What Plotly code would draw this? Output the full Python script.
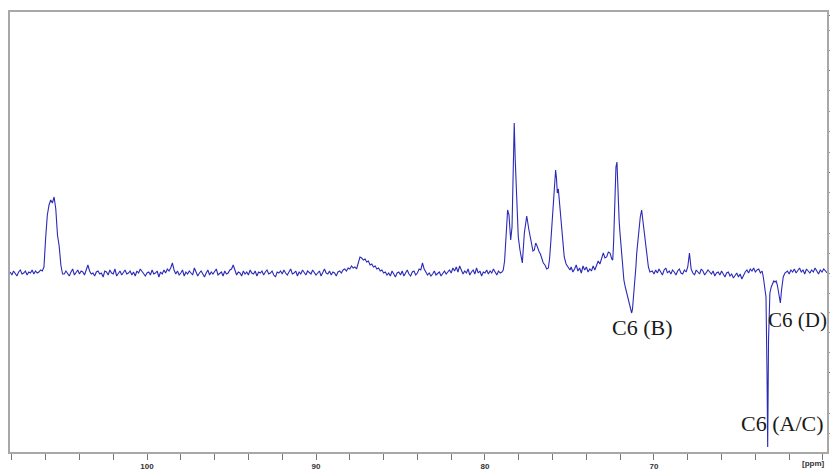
import numpy as np
import plotly.graph_objects as go

# ---- data (intensity, arbitrary units; 0 = baseline) ----
noise_1 = [1, -2, 2, 0, -3, 1, 3, -1, 0, 2, -2, 1, 0, 3, -1, 2, 0, 1, 3]          # 108.1 -> 106.3
peak_a_ppm = [106.2, 106.1, 106.0, 105.9, 105.8, 105.7, 105.6, 105.5, 105.4, 105.3, 105.2, 105.1, 105.0]
peak_a_int = [2, 6, 35, 58, 68, 73, 70, 76, 64, 38, 27, 8, -1]
noise_2 = [-1, 2, 0, -3, 1, 4, -2, 0, 3, -1, 2, 1,
           -2, 3, 8, 2, -1, 0, -3, 1, 2, -1, 0, -4,
           2, 1, -2, 3, 0, -1, 4, -3, 0, 2, -2, 1,
           3, -1, 0, 2, -2, 1, -3, 2, 0, 4, 2, -1,
           -3, 0, 1, -2, 3, -1, 0, 2, -4, 1, -1, 3,
           0, 4, 2, 5, 10, 3, -1, 2, -2, 0, 3, -3,
           1, -1, 2, 0, -2, 5, 1, -3, 0, 2, -1, -4,
           0, 3, -2, 1, -1, 2, 4, -2, 0, 1, -3, 2,
           -1, 0, 3, 4, 8, 2, -2, 1, 0, -3, 2, -1,
           1, -2, 3, 0, -1, 2, -3, 1, 0, 2, -2, 1,
           3, -1, 0, 2, -2, -4, 1, 0, 2, -1, 3, 0,
           -2, 1, 4, -1, 0, 2, -3, 1, -1, 3, 0, -2,
           2, 0, -1, 3, 1, -2, 0, 2, -3, 1, 4, 0,
           -1, 2, -2, 1, 0, -3, 1, 2, 0, 3, 4, 2]                                  # 104.9 -> 88.2
bump_int = [5, 4, 7, 5, 6, 4, 9, 16, 15, 13, 14, 11, 12, 8, 9, 6, 7, 4, 5, 2, 3, 0]  # 88.1 -> 86.0
noise_3 = [1, -2, 0, -3, 2, -1, -4, 0, 1, -2, 2, -3,
           0, 3, -1, -3, 1, 2, -2, 0, 4, 3, 10, 4,
           1, -2, 0, -3, -1, 2, -2, 0, 1, -3, 0, 2,
           -1, 1, 3, 0, 5, 2, 6, 1, 7, 3, -1, 2,
           0, 4, -2, 1, 3, -1, 5, 0, 2, -3, 1, 0,
           3, -1, 2, 0, 4, 1, -2, 2, 0, 1]                                          # 85.9 -> 79.0
cluster_ppm = [78.92, 78.84, 78.76, 78.66, 78.58, 78.48, 78.40, 78.32, 78.27, 78.21, 78.12, 78.03,
               77.93, 77.79, 77.67, 77.53, 77.40, 77.24, 77.16, 77.08, 77.00, 76.94, 76.87, 76.79,
               76.72, 76.65, 76.55, 76.45, 76.35, 76.25, 76.18, 76.11, 76.03, 75.96, 75.89, 75.82,
               75.77, 75.72, 75.66, 75.60, 75.53, 75.46, 75.38, 75.31, 75.20, 75.07,
               74.97, 74.9, 74.8, 74.7, 74.6, 74.5, 74.4, 74.3, 74.2, 74.1, 74.0, 73.9, 73.8, 73.7,
               73.6, 73.5, 73.4, 73.3, 73.2, 73.1, 73.0, 72.9, 72.8, 72.7, 72.6, 72.5, 72.44, 72.39,
               72.35, 72.30, 72.25, 72.19, 72.15, 72.11, 72.06, 72.01, 71.95, 71.89, 71.84, 71.78,
               71.70, 71.62, 71.54, 71.46, 71.39, 71.32, 71.27, 71.22, 71.17, 71.12, 71.07, 71.02,
               70.95, 70.89, 70.81, 70.73, 70.66, 70.59, 70.51, 70.43, 70.33, 70.24]
cluster_int = [3, 12, 33, 63, 58, 33, 46, 126, 150, 113, 66, 36,
               23, 10, 40, 57, 43, 26, 22, 23, 30, 28, 24, 21,
               19, 16, 10, 8, 4, 5, 14, 30, 52, 73, 90, 103,
               95, 80, 84, 73, 58, 40, 26, 16, 9, 5,
               3, 6, 1, 4, 8, 2, 5, 0, 7, 3, 6, 1, 4, 2,
               7, 3, 8, 12, 9, 14, 20, 15, 16, 21, 20, 14, 13, 30,
               60, 85, 106, 111, 90, 66, 52, 40, 26, 13, 3, -7,
               -14, -20, -24, -29, -34, -40, -36, -27, -16, -7, 6, 20,
               33, 46, 56, 63, 52, 40, 28, 16, 6, 1]
noise_4 = [2, -1, 3, 0, 4, 1, -2, 3, 5, 0, 2, -1,
           3, 1, -2, 2, 4, 0, -1, 3, 1, 6, 20, 4,
           0, -2, 3, 1, -1, 4, 2, -2, 0, 3, 1, -1,
           2, -3, 0, 1, -2, 2, -1, -4, 0, 1, -3, -1,
           -5, -2, 0, -4, -1, -6, -2, 1, 3, 0, 4, 2,
           5, 1, 3, 4, 0, 2]                                                        # 70.1 -> 63.6
neg_ppm = [63.53, 63.43, 63.37, 63.31, 63.27, 63.22, 63.14, 63.06, 62.98, 62.91, 62.84, 62.77,
           62.70, 62.64, 62.58, 62.52, 62.45, 62.35, 62.25]
neg_int = [-4, -14, -24, -100, -174, -67, -20, -14, -10, -8, -9, -8,
           -12, -18, -27, -30, -17, -4, 0]
noise_5 = [2, -1, 3, 1, 4, 0, 2, 5, 1, 3, -1, 4, 2, 0, 3, 1, 5, 2, -1, 3, 1, 4, 2, 0]  # 62.1 -> 59.8

x_ticks = [100, 90, 80, 70]
labels = ["C6 (B)", "C6 (D)", "C6 (A/C)"]
label_ppm = [70.65, 59.8, 62.37]
label_int = [-54, -47, -150]
label_anchor = ["center", "right", "center"]
label_shift = [0, 3, 0]
label_size = [22, 21, 22]

# ---- assemble spectrum ----
segs_x = [np.linspace(108.1, 106.3, len(noise_1)), np.array(peak_a_ppm),
          np.linspace(104.9, 88.2, len(noise_2)), np.linspace(88.1, 86.0, len(bump_int)),
          np.linspace(85.9, 79.0, len(noise_3)), np.array(cluster_ppm),
          np.linspace(70.1, 63.6, len(noise_4)), np.array(neg_ppm),
          np.linspace(62.1, 59.75, len(noise_5))]
segs_y = [noise_1, peak_a_int, noise_2, bump_int, noise_3, cluster_int, noise_4, neg_int, noise_5]
ppm = np.concatenate(segs_x)
inten = np.concatenate([np.array(s, dtype=float) for s in segs_y])

fig = go.Figure()
fig.add_trace(go.Scatter(x=ppm, y=inten, mode="lines",
                         line=dict(color="#2a2ab8", width=1.1), showlegend=False,
                         hoverinfo="skip"))

for t, xx, yy, anc, sh, sz in zip(labels, label_ppm, label_int, label_anchor, label_shift, label_size):
    fig.add_annotation(x=xx, y=yy, text=t, showarrow=False, xanchor=anc, xshift=sh,
                       font=dict(family="Liberation Serif, Times New Roman, serif",
                                 size=sz, color="#1a1a1a"))

fig.add_annotation(xref="paper", yref="paper", x=1.0, y=0, yshift=-11, xanchor="right",
                   yanchor="middle", text="<b>[ppm]</b>", showarrow=False,
                   font=dict(family="Arial, Liberation Sans, sans-serif", size=8, color="#333"))

axis_col = "#a8a8a8"
fig.update_layout(
    width=830, height=462,
    margin=dict(l=2, r=11, t=4, b=18, autoexpand=False),
    paper_bgcolor="white", plot_bgcolor="white",
    xaxis=dict(range=[108.11, 59.76], showgrid=False, zeroline=False, automargin=False,
               showline=True, mirror=True, linecolor=axis_col, linewidth=1.5,
               ticks="outside", ticklen=6, tickcolor="#777", tickwidth=1,
               tickvals=x_ticks, ticktext=[f"<b>{v}</b>" for v in x_ticks],
               tickfont=dict(family="Arial, Liberation Sans, sans-serif", size=8, color="#333"),
               minor=dict(dtick=2, ticks="outside", ticklen=6, tickcolor="#777", tickwidth=1)),
    yaxis=dict(range=[-179, 261], side="right", showgrid=False, zeroline=False, automargin=False,
               showline=True, mirror=True, linecolor=axis_col, linewidth=1.5,
               ticks="outside", ticklen=5, tickcolor="#777",
               tickvals=[-99, 0, 101, 203, 258], ticktext=["5", "0", "5", "8", "5"],
               tickangle=90,
               tickfont=dict(family="Arial, Liberation Sans, sans-serif", size=9, color="#444"),
               minor=dict(tickvals=[-160, -140, -119, -79, -59, -39, -20, 20, 40, 61, 81,
                                    121, 142, 162, 183, 223, 243],
                          ticks="outside", ticklen=3, tickcolor="#999")),
)

fig.write_html("out.html")
